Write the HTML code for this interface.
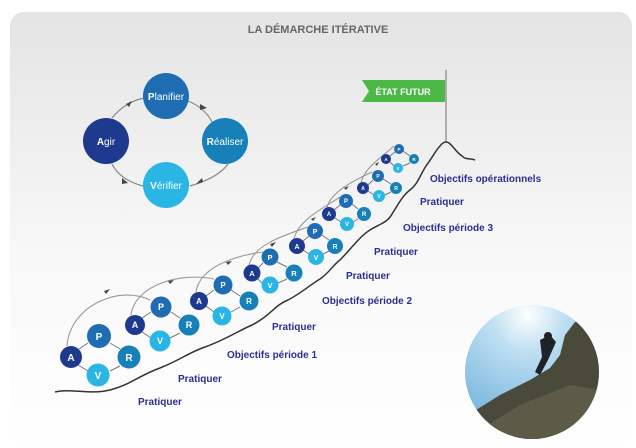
<!DOCTYPE html>
<html><head><meta charset="utf-8"><style>
html,body{margin:0;padding:0;background:#fff;}
body{width:636px;height:443px;overflow:hidden;font-family:"Liberation Sans",sans-serif;}
</style></head><body>
<svg width="636" height="443" viewBox="0 0 636 443" xmlns="http://www.w3.org/2000/svg" font-family="Liberation Sans, sans-serif">
<defs>
<linearGradient id="bg" x1="0" y1="0" x2="0" y2="1">
<stop offset="0" stop-color="#e4e4e4"/><stop offset="0.55" stop-color="#f8f8f8"/><stop offset="1" stop-color="#ffffff"/>
</linearGradient>
<marker id="ar" viewBox="0 0 10 10" refX="5" refY="5" markerWidth="5" markerHeight="5" orient="auto"><path d="M0,0L10,5L0,10z" fill="#444"/></marker>
<radialGradient id="sky" cx="0.45" cy="0.1" r="0.8"><stop offset="0" stop-color="#ffffff"/><stop offset="0.3" stop-color="#bfe0f2"/><stop offset="1" stop-color="#6fb0da"/></radialGradient>
<clipPath id="cc"><circle cx="532" cy="372" r="67"/></clipPath>
</defs>
<rect x="10" y="12" width="622" height="440" rx="14" fill="url(#bg)"/>
<text x="318" y="33" text-anchor="middle" font-size="11" font-weight="bold" fill="#666">LA DÉMARCHE ITÉRATIVE</text>

<!-- PDCA cycle -->
<g fill="none" stroke="#888" stroke-width="1.2">
<path d="M188,101 Q205,108 212,122" marker-mid="url(#ar)"/>
<path d="M228,164 Q218,178 190,186"/>
<path d="M143,186 Q120,180 112,164"/>
<path d="M112,118 Q125,102 144,98"/>
</g>
<g fill="#444">
<path d="M200,104 l7,4 l-7,2z"/>
<path d="M203,182 l-7,2 l6,-6z"/>
<path d="M128,183 l-6,-5 l0,6z"/>
<path d="M126,104 l6,-3 l-3,6z"/>
</g>
<circle cx="166" cy="96" r="23" fill="#1e6db2"/>
<circle cx="225" cy="141" r="23" fill="#1880b8"/>
<circle cx="166" cy="185" r="23" fill="#2ab6e4"/>
<circle cx="106" cy="141" r="23" fill="#1d3a8e"/>
<g fill="#fff" font-size="10" text-anchor="middle">
<text x="166" y="100"><tspan font-weight="bold">P</tspan>lanifier</text>
<text x="225" y="145"><tspan font-weight="bold">R</tspan>éaliser</text>
<text x="166" y="189"><tspan font-weight="bold">V</tspan>érifier</text>
<text x="106" y="145"><tspan font-weight="bold">A</tspan>gir</text>
</g>

<!-- flag -->
<line x1="446" y1="70" x2="446" y2="142" stroke="#999" stroke-width="1.5"/>
<path d="M362,80 H445 V102 H362 L369,91z" fill="#4cb847"/>
<text x="403" y="95" text-anchor="middle" font-size="9" font-weight="bold" fill="#fff">ÉTAT FUTUR</text>

<!-- ridge -->
<path d="M55,392 C70,388 90,395 110,390 C130,385 140,375 160,368 C180,360 190,352 205,347 C225,340 240,330 252,325 C270,316 275,305 288,300 C300,294 310,285 320,279 C330,272 333,265 340,260 C350,250 360,236 370,230 C380,224 388,222 392,214 C398,205 402,196 410,190 C418,184 420,175 426,166 C432,158 436,150 440,146 C443,142 446,141 449,143 C454,147 456,152 462,156 C466,160 470,158 475,160" fill="none" stroke="#333" stroke-width="1.5"/>

<!-- big arcs -->
<g fill="none" stroke="#999" stroke-width="1.1">
<path d="M67,346 C70,305 120,285 150,300"/>
<path d="M131,315 C135,285 180,272 214,279"/>
<path d="M196,292 C200,265 240,255 263,252"/>
<path d="M249,266 C252,245 285,235 308,227"/>
<path d="M294,239 C298,220 325,207 340,197"/>
<path d="M327,208 C330,192 355,180 372,172"/>
<path d="M361,183 C364,168 382,157 394,146"/>
</g>
<g fill="#444">
<path d="M104,291 l6,-2 l-4,5z"/><path d="M168,281 l6,-1 l-4,4z"/><path d="M226,262 l6,-1 l-4,4z"/>
<path d="M270,244 l6,-2 l-4,5z"/><path d="M311,219 l5,-2 l-3,4z"/><path d="M344,188 l5,-2 l-3,4z"/><path d="M375,164 l4,-2 l-2,4z"/>
</g>

<!-- clusters -->
<g id="clusters" font-weight="bold" text-anchor="middle" fill="#fff">
<!-- G1 -->
<g stroke="#777" stroke-width="1" fill="none"><path d="M79,349 L88,343"/><path d="M110,343 L120,349"/><path d="M120,366 L110,371"/><path d="M88,371 L78,365"/></g>
<circle cx="71" cy="357" r="11" fill="#1d3a8e"/><circle cx="99" cy="336" r="12" fill="#1e6db2"/><circle cx="129" cy="357" r="11.5" fill="#1880b8"/><circle cx="98" cy="375" r="11.5" fill="#2ab6e4"/>
<g font-size="10"><text x="71" y="361">A</text><text x="99" y="340">P</text><text x="129" y="361">R</text><text x="98" y="379">V</text></g>
<!-- G2 -->
<g stroke="#777" stroke-width="1" fill="none"><path d="M142,318 L151,312"/><path d="M171,312 L180,318"/><path d="M180,333 L170,338"/><path d="M151,338 L142,332"/></g>
<circle cx="135" cy="325" r="10" fill="#1d3a8e"/><circle cx="161" cy="307" r="10.5" fill="#1e6db2"/><circle cx="189" cy="325" r="10.5" fill="#1880b8"/><circle cx="160" cy="341" r="10.5" fill="#2ab6e4"/>
<g font-size="9"><text x="135" y="328">A</text><text x="161" y="310">P</text><text x="189" y="328">R</text><text x="160" y="344">V</text></g>
<!-- G3 -->
<g stroke="#777" stroke-width="1" fill="none"><path d="M206,296 L214,290"/><path d="M231,290 L240,296"/><path d="M240,307 L231,312"/><path d="M214,312 L206,306"/></g>
<circle cx="199" cy="301" r="9" fill="#1d3a8e"/><circle cx="223" cy="285" r="9.5" fill="#1e6db2"/><circle cx="249" cy="301" r="9.5" fill="#1880b8"/><circle cx="222" cy="316" r="9.5" fill="#2ab6e4"/>
<g font-size="8"><text x="199" y="304">A</text><text x="223" y="288">P</text><text x="249" y="304">R</text><text x="222" y="319">V</text></g>
<!-- G4 -->
<g stroke="#777" stroke-width="1" fill="none"><path d="M258,268 L263,263"/><path d="M277,262 L287,267"/><path d="M287,279 L278,283"/><path d="M262,283 L258,279"/></g>
<circle cx="252" cy="273" r="8.5" fill="#1d3a8e"/><circle cx="270" cy="257" r="8.5" fill="#1e6db2"/><circle cx="294" cy="273" r="8.5" fill="#1880b8"/><circle cx="270" cy="285" r="8.5" fill="#2ab6e4"/>
<g font-size="7.5"><text x="252" y="276">A</text><text x="270" y="260">P</text><text x="294" y="276">R</text><text x="270" y="288">V</text></g>
<!-- G5 -->
<g stroke="#777" stroke-width="1" fill="none"><path d="M303,241 L309,236"/><path d="M322,235 L329,240"/><path d="M329,251 L323,254"/><path d="M309,254 L303,250"/></g>
<circle cx="297" cy="246" r="8" fill="#1d3a8e"/><circle cx="315" cy="231" r="8" fill="#1e6db2"/><circle cx="335" cy="246" r="8" fill="#1880b8"/><circle cx="316" cy="257" r="8" fill="#2ab6e4"/>
<g font-size="7"><text x="297" y="249">A</text><text x="315" y="234">P</text><text x="335" y="249">R</text><text x="316" y="260">V</text></g>
<!-- G6 -->
<g stroke="#777" stroke-width="1" fill="none"><path d="M334,210 L340,205"/><path d="M352,204 L358,209"/><path d="M358,219 L353,222"/><path d="M341,222 L335,218"/></g>
<circle cx="329" cy="214" r="7" fill="#1d3a8e"/><circle cx="346" cy="201" r="7" fill="#1e6db2"/><circle cx="364" cy="214" r="7" fill="#1880b8"/><circle cx="347" cy="224" r="7" fill="#2ab6e4"/>
<g font-size="6"><text x="329" y="216">A</text><text x="346" y="203">P</text><text x="364" y="216">R</text><text x="347" y="226">V</text></g>
<!-- G7 -->
<g stroke="#777" stroke-width="1" fill="none"><path d="M368,185 L373,180"/><path d="M383,179 L391,184"/><path d="M391,192 L385,195"/><path d="M374,195 L368,191"/></g>
<circle cx="363" cy="188" r="6" fill="#1d3a8e"/><circle cx="378" cy="176" r="6" fill="#1e6db2"/><circle cx="396" cy="188" r="6" fill="#1880b8"/><circle cx="379" cy="196" r="6" fill="#2ab6e4"/>
<g font-size="5"><text x="363" y="190">A</text><text x="378" y="178">P</text><text x="396" y="190">R</text><text x="379" y="198">V</text></g>
<!-- G8 -->
<g stroke="#777" stroke-width="1" fill="none"><path d="M390,156 L395,152"/><path d="M403,151 L410,156"/><path d="M410,163 L403,166"/><path d="M394,166 L390,162"/></g>
<circle cx="386" cy="159" r="5" fill="#1d3a8e"/><circle cx="399" cy="149" r="5" fill="#1e6db2"/><circle cx="414" cy="159" r="5" fill="#1880b8"/><circle cx="398" cy="168" r="5" fill="#2ab6e4"/>
<g font-size="4.5"><text x="386" y="161">A</text><text x="399" y="151">P</text><text x="414" y="161">R</text><text x="398" y="170">V</text></g>
</g>

<!-- labels -->
<g font-size="10" font-weight="bold" fill="#2b2f8f">
<text x="430" y="182">Objectifs opérationnels</text>
<text x="420" y="205">Pratiquer</text>
<text x="403" y="231">Objectifs période 3</text>
<text x="374" y="255">Pratiquer</text>
<text x="346" y="279">Pratiquer</text>
<text x="322" y="304">Objectifs période 2</text>
<text x="272" y="330">Pratiquer</text>
<text x="227" y="358">Objectifs période 1</text>
<text x="178" y="382">Pratiquer</text>
<text x="138" y="405">Pratiquer</text>
</g>

<!-- photo -->
<g clip-path="url(#cc)">
<rect x="460" y="300" width="150" height="150" fill="url(#sky)"/>
<path d="M460,420 L500,395 L530,380 L550,368 L560,355 L565,335 L575,322 L590,320 L605,330 L610,450 L460,450z" fill="#4a4a3a"/>
<path d="M480,430 L520,405 L545,395 L570,385 L600,390 L610,450 L470,450z" fill="#5e5a48"/>
<path d="M540,340 L550,335 L556,342 L548,360 L540,375 L535,372 L542,357z" fill="#1f2328"/>
<circle cx="548" cy="336" r="4" fill="#222"/>
</g>
</svg>
</body></html>
